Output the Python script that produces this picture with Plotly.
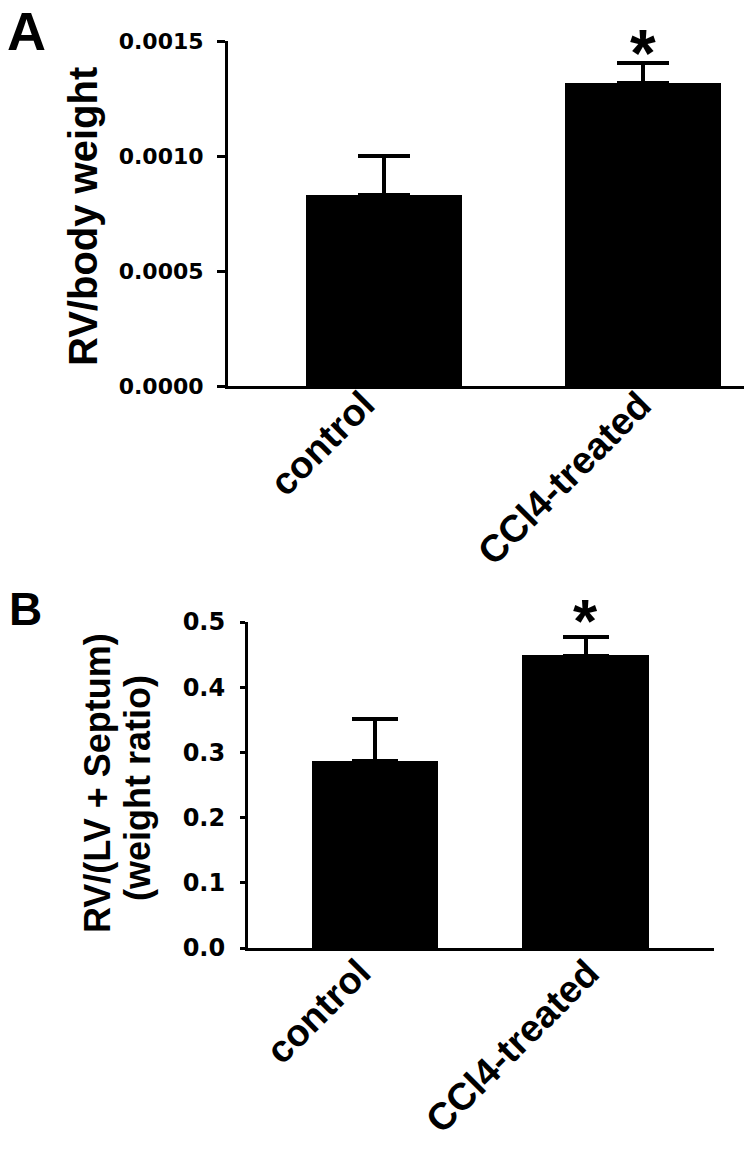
import plotly.graph_objects as go

W, H = 752, 1156

categories = ["control", "CCl4-treated"]

# Panel A: RV / body weight
a_values = [0.00083, 0.001317]
a_errors = [0.00017, 0.000087]
a_ticks = [0.0, 0.0005, 0.0010, 0.0015]
a_ticklabels = ["0.0000", "0.0005", "0.0010", "0.0015"]

# Panel B: RV / (LV + Septum)
b_values = [0.287, 0.449]
b_errors = [0.064, 0.028]
b_ticks = [0.0, 0.1, 0.2, 0.3, 0.4, 0.5]
b_ticklabels = ["0.0", "0.1", "0.2", "0.3", "0.4", "0.5"]

sig_marks = ["", "*"]

ARIAL = "Liberation Sans, Arial, sans-serif"
DEJAVU = "DejaVu Sans, sans-serif"


def px_x(p):
    return p / W


def px_y(p):
    return 1 - p / H


fig = go.Figure()

fig.add_trace(go.Bar(
    x=categories, y=a_values, width=0.602,
    marker=dict(color="black", line=dict(width=0)),
    error_y=dict(type="data", array=a_errors, arrayminus=[0, 0], symmetric=False,
                 color="black", thickness=3.5, width=26),
    xaxis="x", yaxis="y", showlegend=False, hoverinfo="skip",
))
fig.add_trace(go.Bar(
    x=categories, y=b_values, width=0.602,
    marker=dict(color="black", line=dict(width=0)),
    error_y=dict(type="data", array=b_errors, arrayminus=[0, 0], symmetric=False,
                 color="black", thickness=3.5, width=23),
    xaxis="x2", yaxis="y2", showlegend=False, hoverinfo="skip",
))

axis_common = dict(showgrid=False, zeroline=False, showline=True, linecolor="black",
                   linewidth=3, automargin=False)

fig.update_layout(
    width=W, height=H,
    margin=dict(l=0, r=0, t=0, b=0, pad=0),
    paper_bgcolor="white", plot_bgcolor="white",
    bargap=0,
    xaxis=dict(domain=[px_x(228), px_x(744)], range=[-0.602, 1.39], anchor="y",
               ticks="", showticklabels=False, **axis_common),
    yaxis=dict(domain=[px_y(386), px_y(41)], range=[0, 0.0015], anchor="x",
               tickvals=a_ticks, ticktext=a_ticklabels, ticks="outside", ticklen=8, tickwidth=3,
               tickcolor="black", ticklabelstandoff=9,
               tickfont=dict(family=DEJAVU, size=22, color="black", weight="bold"),
               **axis_common),
    xaxis2=dict(domain=[px_x(248), px_x(714)], range=[-0.602, 1.607], anchor="y2",
                ticks="", showticklabels=False, **axis_common),
    yaxis2=dict(domain=[px_y(948), px_y(622)], range=[0, 0.5], anchor="x2",
                tickvals=b_ticks, ticktext=b_ticklabels, ticks="outside", ticklen=5, tickwidth=3,
                tickcolor="black", ticklabelstandoff=10,
                tickfont=dict(family=DEJAVU, size=24, color="black", weight="bold"),
                **axis_common),
)

annotations = []
# panel letters
annotations.append(dict(text="<b>A</b>", x=px_x(6), y=px_y(0), xref="paper", yref="paper",
                        xanchor="left", yanchor="top", showarrow=False, borderpad=0,
                        font=dict(family=ARIAL, size=54, color="black")))
annotations.append(dict(text="<b>B</b>", x=px_x(7), y=px_y(581), xref="paper", yref="paper",
                        xanchor="left", yanchor="top", showarrow=False,
                        font=dict(family=ARIAL, size=46, color="black")))
# y titles
annotations.append(dict(text="<b>RV/body weight</b>", x=px_x(83), y=px_y(217), xref="paper", yref="paper",
                        xanchor="center", yanchor="middle", textangle=-90, showarrow=False,
                        font=dict(family=ARIAL, size=40, color="black")))
annotations.append(dict(text="<b>RV/(LV + Septum)</b>", x=px_x(97), y=px_y(783), xref="paper", yref="paper",
                        xanchor="center", yanchor="middle", textangle=-90, showarrow=False,
                        font=dict(family=ARIAL, size=36, color="black")))
annotations.append(dict(text="<b>(weight ratio)</b>", x=px_x(137), y=px_y(788), xref="paper", yref="paper",
                        xanchor="center", yanchor="middle", textangle=-90, showarrow=False,
                        font=dict(family=ARIAL, size=36, color="black")))

# category labels (rotated, end aligned near the bar centre)
label_xshift = [2, 19]
for xr, yr, dx, dy in (("x", "y", 0, 6), ("x2", "y2", 5, 0)):
    for i, cat in enumerate(categories):
        annotations.append(dict(text=f"<b>{cat}</b>", x=cat, y=0, xref=xr, yref=yr,
                                xanchor="right", yanchor="top", textangle=-45,
                                xshift=label_xshift[i] + dx, yshift=dy, showarrow=False,
                                font=dict(family=ARIAL, size=38, color="black")))

# significance marks
for cat, v, e, s in zip(categories, a_values, a_errors, sig_marks):
    if s:
        annotations.append(dict(text=f"<b>{s}</b>", x=cat, y=v + e, xref="x", yref="y",
                                xanchor="center", yanchor="bottom", yshift=-29, showarrow=False,
                                font=dict(family=ARIAL, size=66, color="black")))
for cat, v, e, s in zip(categories, b_values, b_errors, sig_marks):
    if s:
        annotations.append(dict(text=f"<b>{s}</b>", x=cat, y=v + e, xref="x2", yref="y2",
                                xanchor="center", yanchor="bottom", yshift=-20, showarrow=False,
                                font=dict(family=ARIAL, size=62, color="black")))

fig.update_layout(annotations=annotations)

fig.write_html("out.html", config={"displayModeBar": False, "staticPlot": True},
               post_script="document.body.style.margin='0px';")
